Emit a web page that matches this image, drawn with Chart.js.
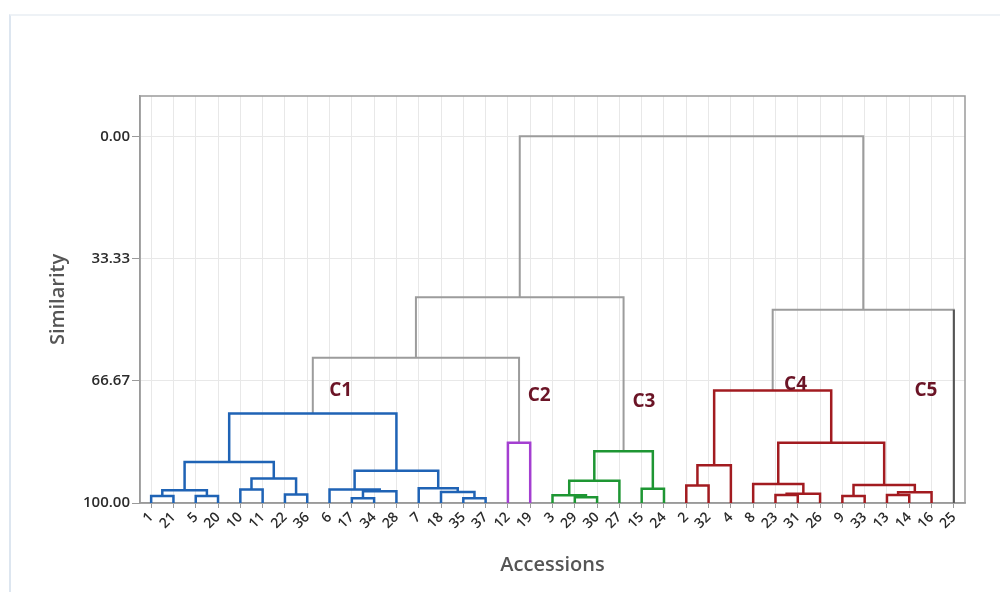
<!DOCTYPE html>
<html>
<head>
<meta charset="utf-8">
<script src="https://cdn.jsdelivr.net/npm/chart.js@4"></script>
<style>
  html, body { margin: 0; padding: 0; background: #fff; }
  #moldura { position: absolute; left: 9px; top: 14px; width: 991px; height: 578px;
             border-left: 2px solid #dde6f0; border-top: 2px solid #eef2f6; }
  #wrap { position: absolute; left: 0; top: 0; width: 1000px; height: 592px; }
</style>
</head>
<body>
<div id="moldura"></div>
<div id="wrap"><canvas id="dendro" width="1000" height="592"></canvas></div>
<script>
// Ordem das folhas (acessos) no eixo X
const folhas = ['1','21','5','20','10','11','22','36','6','17','34','28','7','18','35','37',
  '12','19','3','29','30','27','15','24','2','32','4','8','23','31','26','9','33','13','14','16','25'];

// Fusões: [filho esquerdo, filho direito, similaridade, grupo]  ('#k' = fusão k)
const fusoes = [
  ['1', '21', 98.1, 'C1'],
  ['5', '20', 98.1, 'C1'],
  ['#0', '#1', 96.5, 'C1'],
  ['10', '11', 96.3, 'C1'],
  ['22', '36', 97.7, 'C1'],
  ['#3', '#4', 93.3, 'C1'],
  ['#2', '#5', 88.8, 'C1'],
  ['17', '34', 98.7, 'C1'],
  ['#7', '28', 96.8, 'C1'],
  ['6', '#8', 96.3, 'C1'],
  ['35', '37', 98.7, 'C1'],
  ['18', '#10', 97.0, 'C1'],
  ['7', '#11', 96.0, 'C1'],
  ['#9', '#12', 91.2, 'C1'],
  ['#6', '#13', 75.6, 'C1'],
  ['12', '19', 83.6, 'C2'],
  ['#14', '#15', 60.4, 'raiz'],
  ['29', '30', 98.4, 'C3'],
  ['3', '#17', 97.9, 'C3'],
  ['#18', '27', 93.9, 'C3'],
  ['15', '24', 96.1, 'C3'],
  ['#19', '#20', 85.9, 'C3'],
  ['#16', '#21', 43.9, 'raiz'],
  ['2', '32', 95.2, 'C4'],
  ['#23', '4', 89.7, 'C4'],
  ['23', '31', 97.8, 'C4'],
  ['#25', '26', 97.5, 'C4'],
  ['8', '#26', 94.8, 'C4'],
  ['9', '33', 98.1, 'C4'],
  ['13', '14', 97.8, 'C4'],
  ['#29', '16', 97.1, 'C4'],
  ['#28', '#30', 95.1, 'C4'],
  ['#27', '#31', 83.6, 'C4'],
  ['#24', '#32', 69.3, 'C4'],
  ['#33', '25', 47.3, 'raiz'],
  ['#22', '#34', 0.0, 'raiz']
];

// Folhas isoladas que formam um grupo sozinhas
const folhaGrupo = { '25': 'C5' };

const ticksY = [0, 33.33, 66.67, 100];

// Rótulos dos grupos (em unidades do gráfico)
const grupos = ['C1', 'C2', 'C3', 'C4', 'C5'];
const rotuloX = [9.5, 18.4, 23.1, 29.9, 35.75];
const rotuloY = [69.4, 70.7, 72.4, 67.8, 69.4];

const cores = {
  C1: '#1f63b5', C2: '#a43fd1', C3: '#1e9633', C4: '#a21b20', C5: '#555555', raiz: '#9c9c9c'
};

// Montar os segmentos do dendrograma
const posX = {};
const altura = {};
folhas.forEach((f, i) => { posX[f] = i + 1; altura[f] = 100; });

const datasets = [];
fusoes.forEach(([a, b, s, g], k) => {
  const id = '#' + k;
  posX[id] = (posX[a] + posX[b]) / 2;
  altura[id] = s;
  datasets.push({
    data: [
      { x: posX[a], y: altura[a] },
      { x: posX[a], y: s },
      { x: posX[b], y: s },
      { x: posX[b], y: altura[b] }
    ],
    borderColor: cores[g],
    borderWidth: g === 'raiz' ? 2 : 2.5,
    order: g === 'raiz' ? 1 : 0
  });
  [a, b].forEach(f => {
    if (folhaGrupo[f]) {
      datasets.push({
        data: [{ x: posX[f], y: altura[f] }, { x: posX[f], y: s }],
        borderColor: cores[folhaGrupo[f]],
        borderWidth: 2,
        order: -1
      });
    }
  });
});

datasets.forEach(d => {
  d.showLine = true;
  d.pointRadius = 0;
  d.fill = false;
  d.tension = 0;
  d.clip = 6;
  d.borderJoinStyle = 'miter';
});

// Moldura da área do gráfico e rótulos C1..C5
const extras = {
  id: 'extras',
  beforeDatasetsDraw(chart) {
    const { ctx, chartArea: ca } = chart;
    ctx.save();
    ctx.strokeStyle = '#9a9a9a';
    ctx.lineWidth = 1.5;
    ctx.strokeRect(ca.left, ca.top, ca.right - ca.left, ca.bottom - ca.top);
    ctx.restore();
  },
  afterDatasetsDraw(chart) {
    const { ctx, scales } = chart;
    ctx.save();
    ctx.font = 'bold 19px "Open Sans"';
    ctx.fillStyle = '#6b1426';
    ctx.textAlign = 'center';
    ctx.textBaseline = 'middle';
    grupos.forEach((g, i) => {
      ctx.fillText(g, scales.x.getPixelForValue(rotuloX[i]), scales.y.getPixelForValue(rotuloY[i]));
    });
    ctx.restore();
  }
};

const grade = '#e8e8e8';

new Chart(document.getElementById('dendro'), {
  type: 'scatter',
  data: { datasets },
  options: {
    responsive: false,
    animation: false,
    layout: { padding: { left: 46, top: 96, right: 35, bottom: 0 } },
    plugins: { legend: { display: false }, tooltip: { enabled: false } },
    scales: {
      x: {
        type: 'linear',
        min: 0.5,
        max: 37.5,
        afterBuildTicks: s => { s.ticks = folhas.map((_, i) => ({ value: i + 1 })); },
        afterFit: s => { s.height = 89; },
        ticks: {
          autoSkip: false,
          minRotation: 45,
          maxRotation: 45,
          padding: 1,
          color: '#2b2b2b',
          font: { family: '"Open Sans"', size: 14, weight: '600' },
          callback: (v, i) => folhas[i]
        },
        grid: { color: grade, tickLength: 5, tickColor: '#9a9a9a' },
        border: { color: '#9a9a9a', width: 1.5 },
        title: {
          display: true,
          text: 'Accessions',
          color: '#555',
          font: { family: '"Open Sans"', size: 20, weight: '600' },
          padding: { top: 0, bottom: 15 }
        }
      },
      y: {
        type: 'linear',
        reverse: true,
        min: -11,
        max: 100,
        afterBuildTicks: s => { s.ticks = ticksY.map(v => ({ value: v })); },
        afterFit: s => { s.width = 94; },
        ticks: {
          padding: 2,
          color: '#2b2b2b',
          font: { family: '"Open Sans"', size: 15, weight: '600' },
          callback: v => v.toFixed(2)
        },
        grid: { color: grade, tickLength: 8, tickColor: '#9a9a9a' },
        border: { color: '#9a9a9a', width: 1.5 },
        title: {
          display: true,
          text: 'Similarity',
          color: '#555',
          font: { family: '"Open Sans"', size: 20, weight: '600' },
          padding: { top: 0, bottom: 0 }
        }
      }
    }
  },
  plugins: [extras]
});
</script>
</body>
</html>
